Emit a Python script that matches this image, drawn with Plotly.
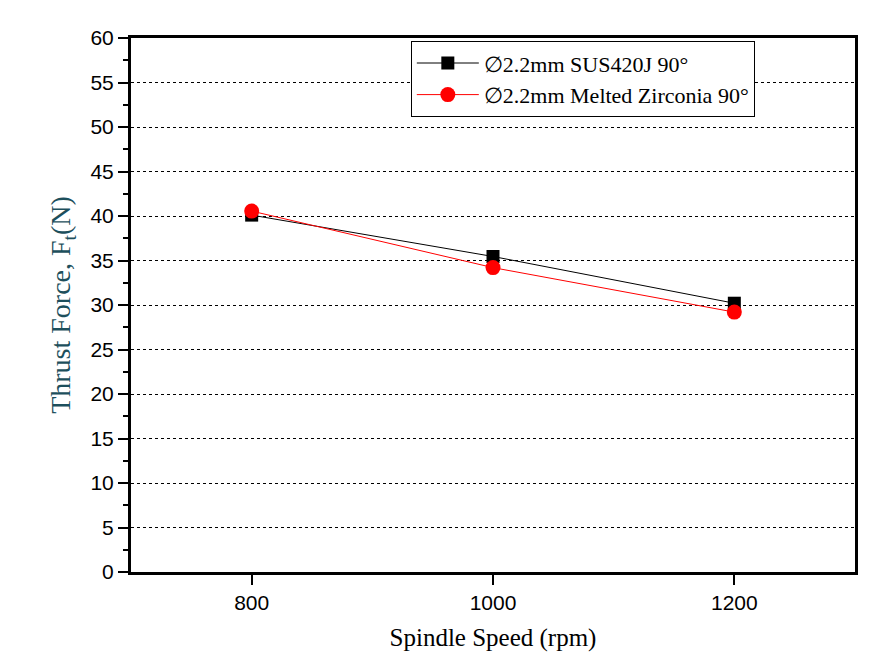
import plotly.graph_objects as go

speeds = [800, 1000, 1200]
sus420j = [40.1, 35.45, 30.2]
zirconia = [40.55, 34.2, 29.2]
names = ["∅2.2mm SUS420J 90°", "∅2.2mm Melted Zirconia 90°"]
y_ticks = list(range(0, 61, 5))
x_ticks = [800, 1000, 1200]

SERIF = "Liberation Serif, Times New Roman, serif"
SANS = "Liberation Sans, Arial, sans-serif"

fig = go.Figure()
fig.add_trace(go.Scatter(
    x=speeds, y=sus420j, name=names[0], mode="lines+markers",
    line=dict(color="black", width=1),
    marker=dict(symbol="square", size=13, color="black"),
))
fig.add_trace(go.Scatter(
    x=speeds, y=zirconia, name=names[1], mode="lines+markers",
    line=dict(color="red", width=1),
    marker=dict(symbol="circle", size=15, color="red"),
))

fig.update_layout(
    width=882, height=660,
    margin=dict(l=123, r=35, t=30, b=96),
    plot_bgcolor="white", paper_bgcolor="white",
    showlegend=True,
    legend=dict(
        x=0.3865, y=0.994, xanchor="left", yanchor="top",
        bordercolor="black", borderwidth=1, bgcolor="white",
        font=dict(family=SERIF, size=22, color="black"),
        tracegroupgap=0, itemwidth=62,
    ),
    xaxis=dict(
        range=[700, 1300], tickvals=x_ticks,
        showline=True, linecolor="black", linewidth=3, mirror=True,
        ticks="outside", ticklen=10, tickwidth=2, tickcolor="black",
        showgrid=False, zeroline=False,
        tickfont=dict(family=SANS, size=21, color="black"),
        title=dict(text="Spindle Speed (rpm)", standoff=16,
                   font=dict(family=SERIF, size=25, color="black")),
    ),
    yaxis=dict(
        range=[0, 60], tickvals=y_ticks,
        showline=True, linecolor="black", linewidth=3, mirror=True,
        ticks="outside", ticklen=10, tickwidth=2, tickcolor="black",
        minor=dict(dtick=2.5, ticks="outside", ticklen=5, tickwidth=2,
                   tickcolor="black", showgrid=False),
        showgrid=True, gridcolor="black", gridwidth=1, griddash="dot",
        zeroline=False,
        tickfont=dict(family=SANS, size=21, color="black"),
        title=dict(text="Thrust Force, F<sub>t</sub>(N)", standoff=12,
                   font=dict(family=SERIF, size=28, color="#1d4f5c")),
    ),
)

fig.write_html("out.html")
